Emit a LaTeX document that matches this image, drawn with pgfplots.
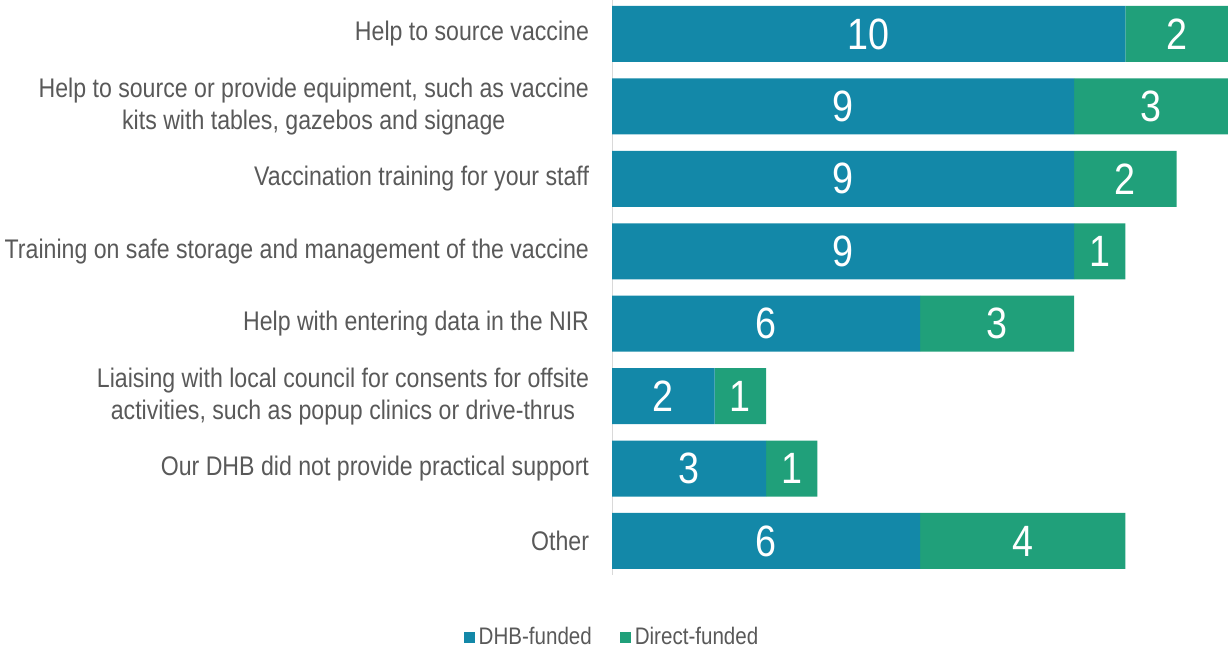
\documentclass[border=0pt]{standalone}
\usepackage{fontspec}
\setmainfont{Liberation Sans}[FakeStretch=0.86]
\usepackage{pgfplots}
\pgfplotsset{compat=1.18}
\definecolor{dhb}{HTML}{1388A8}
\definecolor{direct}{HTML}{20A07A}
\definecolor{lab}{HTML}{595959}
\begin{document}
\begin{tikzpicture}
\path[use as bounding box] (0,0) rectangle (614bp,-325bp);
\begin{axis}[
  at={(306bp,0)}, anchor=north west, scale only axis,
  width=308bp, height=287.5bp,
  xbar stacked, bar width=28bp,
  xmin=0, xmax=12, ymin=0.531, ymax=8.47, y dir=reverse,
  axis x line=none, axis y line*=left, axis line style={black!15},
  ytick={1,...,8}, major tick length=0pt,
  yticklabels={
    {Help to source vaccine},
    {Help to source or provide equipment, such as vaccine\\kits with tables, gazebos and signage},
    {Vaccination training for your staff},
    {Training on safe storage and management of the vaccine},
    {Help with entering data in the NIR},
    {Liaising with local council for consents for offsite\\activities, such as popup clinics or drive-thrus},
    {Our DHB did not provide practical support},
    {Other}},
  yticklabel style={align=center, font=\fontsize{13.5}{16}\selectfont, text=lab, xshift=-8bp},
  visualization depends on={rawx \as \rawx},
  nodes near coords={\pgfmathprintnumber[assume math mode=true]{\rawx}},
  every node near coord/.style={anchor=center,
    font=\fontsize{22}{22}\selectfont, text=white},
  legend image code/.code={\draw[#1,draw=none] (0bp,-2.75bp) rectangle (5.5bp,2.75bp);},
  legend style={at={(0.0016,-0.108)}, anchor=center, draw=none, legend columns=2,
    font=\fontsize{12}{14}\selectfont, text=lab,
    /tikz/every even column/.append style={column sep=12bp}},
]
\addplot[fill=dhb, draw=none]
  coordinates {(10,1) (9,2) (9,3) (9,4) (6,5) (2,6) (3,7) (6,8)};
\addplot[fill=direct, draw=none]
  coordinates {(2,1) (3,2) (2,3) (1,4) (3,5) (1,6) (1,7) (4,8)};
\legend{DHB-funded, Direct-funded}
\end{axis}
\end{tikzpicture}
\end{document}
